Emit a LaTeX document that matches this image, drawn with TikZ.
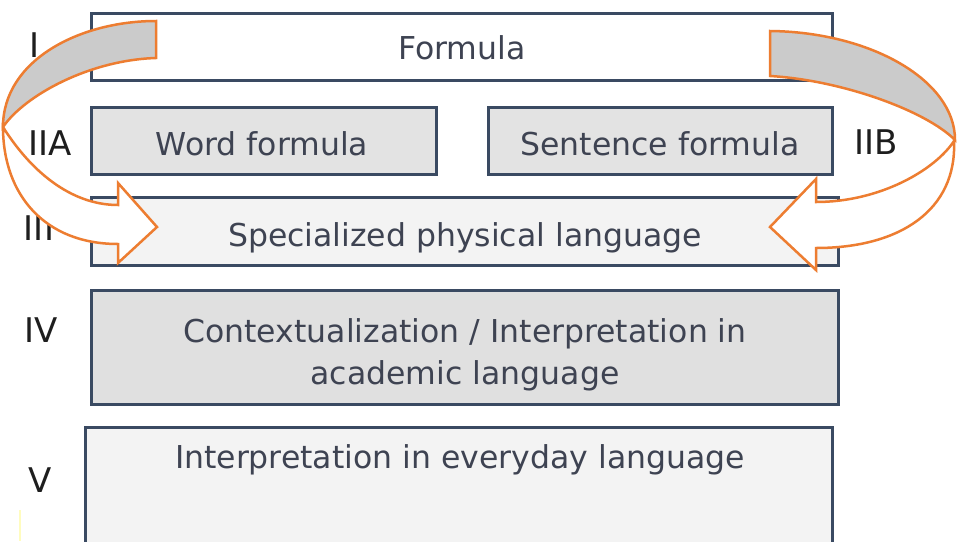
\documentclass[tikz,border=0pt]{standalone}
\usepackage{fontspec}
\setmainfont{DejaVu Sans}
\definecolor{bordc}{HTML}{3A4A62}
\definecolor{txtc}{HTML}{3E4352}
\definecolor{labc}{HTML}{1E1E1E}
\definecolor{arrc}{HTML}{ED7D31}
\definecolor{backc}{HTML}{CBCBCB}
\definecolor{fillA}{HTML}{E3E3E3}
\definecolor{fillB}{HTML}{F3F3F3}
\definecolor{fillC}{HTML}{E0E0E0}
\begin{document}
\begin{tikzpicture}[x=1pt,y=-1pt,
  layerbox/.style={draw=bordc, line width=3pt, inner sep=0pt, outer sep=0pt},
  boxtext/.style={anchor=base, text=txtc, font=\fontsize{31.5}{42}\selectfont, inner sep=0pt, align=center},
  lvl/.style={anchor=base, text=labc, font=\fontsize{34}{38}\selectfont, inner sep=0pt},
  ribbonback/.style={draw=arrc, fill=backc, line width=2.5pt, line join=miter},
  ribbonfront/.style={draw=arrc, fill=white, line width=2.5pt, line join=miter}]
\clip (0,0) rectangle (960,541);
\fill[white] (0,0) rectangle (960,541);
\draw[yellow!25, line width=2pt] (20,510) -- (20,541);
% boxes
\node[layerbox, fill=white, minimum width=741pt, minimum height=67pt] (b1) at (461.5,46.5) {};
\node[layerbox, fill=fillA, minimum width=345pt, minimum height=67pt] (b2a) at (263.5,140.5) {};
\node[layerbox, fill=fillA, minimum width=344pt, minimum height=67pt] (b2b) at (660,140.5) {};
\node[layerbox, fill=fillB, minimum width=747pt, minimum height=68pt] (b3) at (464.5,231) {};
\node[layerbox, fill=fillC, minimum width=747pt, minimum height=114pt] (b4) at (464.5,347) {};
\node[layerbox, fill=fillB, minimum width=747pt, minimum height=134pt] (b5) at (458.5,494) {};
% box texts
\node[boxtext] (t1) at (462,59) {Formula};
\node[boxtext] (t2a) at (262,155) {Word formula};
\node[boxtext] (t2b) at (660,155) {Sentence formula};
\node[boxtext] (t3) at (465,246) {Specialized physical language};
\node[boxtext] (t4a) at (465,342) {Contextualization / Interpretation in};
\node[boxtext] (t4b) at (465,384) {academic language};
\node[boxtext] (t5) at (460,468) {Interpretation in everyday language};
% level labels
\node[lvl] (l1) at (35,57) {I};
\node[lvl] (l2a) at (50,155) {IIA};
\node[lvl] (l2b) at (876,154) {IIB};
\node[lvl] (l3) at (39,240) {III};
\node[lvl] (l4) at (41,342) {IV};
\node[lvl] (l5) at (40,492) {V};
% left curved arrow
\draw[ribbonback] (156,21) .. controls (80,21) and (3,60) .. (3,127)
   .. controls (25,95) and (90,60) .. (156,58) -- cycle;
\draw[ribbonfront] (3,127) .. controls (3,195) and (45,244) .. (118,244)
   -- (118,263) -- (157,227) -- (118,183) -- (118,205)
   .. controls (70,205) and (30,170) .. (3,127) -- cycle;
% right curved arrow
\draw[ribbonback] (770,31) .. controls (870,32) and (955,80) .. (955,140)
   .. controls (925,110) and (840,80) .. (770,76) -- cycle;
\draw[ribbonfront] (954,141) .. controls (957,210) and (900,248) .. (816,248)
   -- (816,270) -- (770,227) -- (816,179) -- (816,202)
   .. controls (880,202) and (935,170) .. (954,141) -- cycle;
\end{tikzpicture}
\end{document}
